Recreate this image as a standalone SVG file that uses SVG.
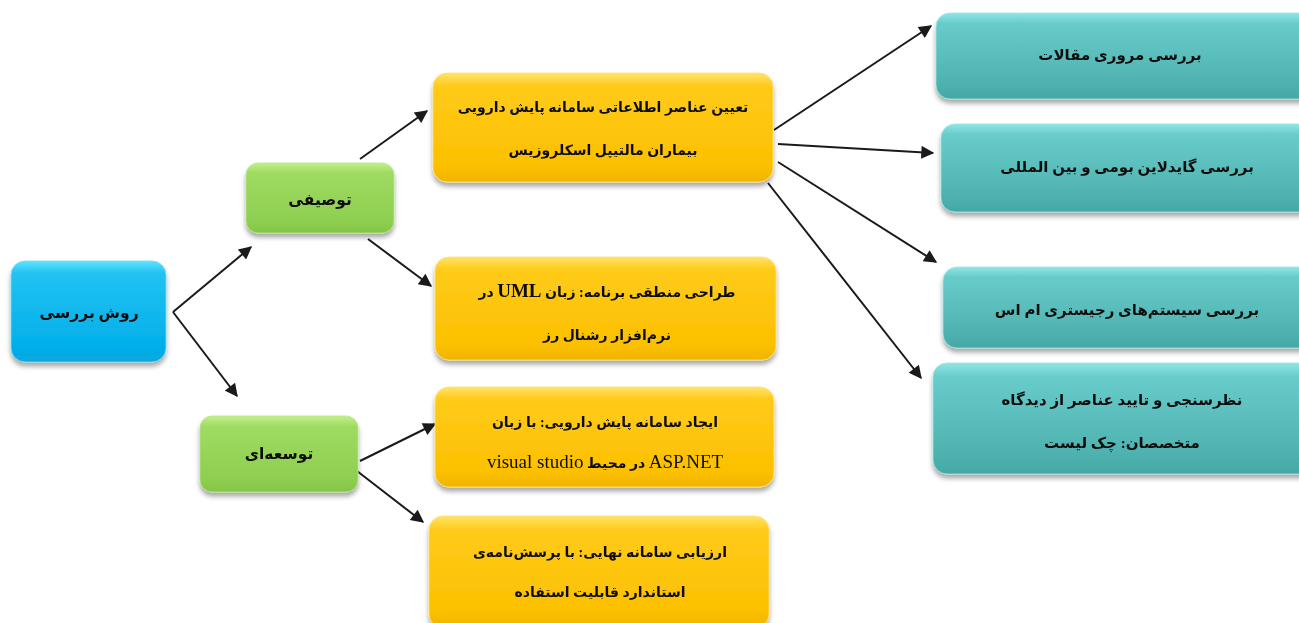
<svg xmlns="http://www.w3.org/2000/svg" width="1299" height="623" viewBox="0 0 1299 623">
<style>
.lbl{font-family:"Liberation Serif","DejaVu Sans",serif;font-weight:bold;font-size:14px;fill:#111111;text-anchor:middle;direction:rtl}
.lat{font-size:19px}
.t15{font-size:15px}
.t16{font-size:15.5px}
.edge{stroke:#1a1a1a;stroke-width:2;fill:none;marker-end:url(#ah)}
.box{filter:url(#sh)}
</style>
<defs>
<marker id="ah" viewBox="0 0 10 10" refX="9" refY="5" markerWidth="7.5" markerHeight="6.5" markerUnits="strokeWidth" orient="auto">
<path d="M0,0 L10,5 L0,10 z" fill="#1a1a1a"/>
</marker>
<filter id="sh" x="-10%" y="-10%" width="120%" height="130%">
<feGaussianBlur in="SourceAlpha" stdDeviation="2.5"/>
<feOffset dx="0" dy="4" result="b"/>
<feComponentTransfer><feFuncA type="linear" slope="0.35"/></feComponentTransfer>
<feMerge><feMergeNode/><feMergeNode in="SourceGraphic"/></feMerge>
</filter>
<linearGradient id="gBlue" x1="0" y1="0" x2="0" y2="1">
<stop offset="0" stop-color="#5fe2ff"/><stop offset="0.12" stop-color="#22c2f2"/><stop offset="0.85" stop-color="#02afe9"/><stop offset="1" stop-color="#0aa6dc"/>
</linearGradient>
<linearGradient id="gGreen" x1="0" y1="0" x2="0" y2="1">
<stop offset="0" stop-color="#c3ef8a"/><stop offset="0.14" stop-color="#9fdb62"/><stop offset="0.85" stop-color="#8dce50"/><stop offset="1" stop-color="#84c548"/>
</linearGradient>
<linearGradient id="gYellow" x1="0" y1="0" x2="0" y2="1">
<stop offset="0" stop-color="#ffe36a"/><stop offset="0.12" stop-color="#ffcb1a"/><stop offset="0.85" stop-color="#fcc000"/><stop offset="1" stop-color="#f0b400"/>
</linearGradient>
<linearGradient id="gTeal" x1="0" y1="0" x2="0" y2="1">
<stop offset="0" stop-color="#8fe6e4"/><stop offset="0.12" stop-color="#68cccb"/><stop offset="0.85" stop-color="#4db1ae"/><stop offset="1" stop-color="#45a7a4"/>
</linearGradient>
</defs>
<rect width="1299" height="623" fill="#ffffff"/>

<g id="connectors">
<path class="edge" d="M173,312 L251,247"/>
<path class="edge" d="M173,312 L237,396"/>
<path class="edge" d="M360,159 L427,111"/>
<path class="edge" d="M368,239 L431,286"/>
<path class="edge" d="M360,461 L435,424"/>
<path class="edge" d="M357,471 L423,522"/>
<path class="edge" d="M774,130 L931,26"/>
<path class="edge" d="M778,144 L933,153"/>
<path class="edge" d="M778,162 L936,262"/>
<path class="edge" d="M768,183 L921,378"/>
</g>

<g id="n-root" class="box">
<rect x="11" y="261" width="155" height="101" rx="14" fill="url(#gBlue)" stroke="#7fdcf7" stroke-width="0.8"/>
<text class="lbl t16" x="89" y="318">روش بررسی</text>
</g>

<g id="n-tosifi" class="box">
<rect x="246" y="163" width="148" height="70" rx="12" fill="url(#gGreen)" stroke="#b8e68a" stroke-width="0.8"/>
<text class="lbl t16" x="320" y="205">توصیفی</text>
</g>

<g id="n-tosee" class="box">
<rect x="200" y="416" width="158" height="76" rx="12" fill="url(#gGreen)" stroke="#b8e68a" stroke-width="0.8"/>
<text class="lbl t16" x="279" y="459">توسعه‌ای</text>
</g>

<g id="n-y1" class="box">
<rect x="433" y="73" width="340" height="109" rx="14" fill="url(#gYellow)" stroke="#ffe27a" stroke-width="0.8"/>
<text class="lbl" x="603" y="112">تعیین عناصر اطلاعاتی سامانه پایش دارویی</text>
<text class="lbl" x="603" y="155">بیماران مالتیپل اسکلروزیس</text>
</g>

<g id="n-y2" class="box">
<rect x="435" y="257" width="341" height="103" rx="14" fill="url(#gYellow)" stroke="#ffe27a" stroke-width="0.8"/>
<text class="lbl" x="607" y="297">طراحی منطقی برنامه: زبان <tspan class="lat">UML</tspan> در</text>
<text class="lbl" x="607" y="340">نرم‌افزار رشنال رز</text>
</g>

<g id="n-y3" class="box">
<rect x="435" y="387" width="339" height="100" rx="14" fill="url(#gYellow)" stroke="#ffe27a" stroke-width="0.8"/>
<text class="lbl" x="605" y="427">ایجاد سامانه پایش دارویی: با زبان</text>
<text class="lbl" x="605" y="468"><tspan class="lat" font-weight="normal">ASP.NET</tspan> در محیط <tspan class="lat" font-weight="normal">visual studio</tspan></text>
</g>

<g id="n-y4" class="box">
<rect x="429" y="516" width="340" height="112" rx="14" fill="url(#gYellow)" stroke="#ffe27a" stroke-width="0.8"/>
<text class="lbl" x="600" y="557">ارزیابی سامانه نهایی: با پرسش‌نامه‌ی</text>
<text class="lbl" x="600" y="597">استاندارد قابلیت استفاده</text>
</g>

<g id="n-t1" class="box">
<rect x="936" y="13" width="380" height="86" rx="14" fill="url(#gTeal)" stroke="#9be7e5" stroke-width="0.8"/>
<text class="lbl t15" x="1120" y="60">بررسی مروری مقالات</text>
</g>

<g id="n-t2" class="box">
<rect x="941" y="124" width="375" height="88" rx="14" fill="url(#gTeal)" stroke="#9be7e5" stroke-width="0.8"/>
<text class="lbl t15" x="1127" y="172">بررسی گایدلاین بومی و بین المللی</text>
</g>

<g id="n-t3" class="box">
<rect x="943" y="267" width="373" height="81" rx="14" fill="url(#gTeal)" stroke="#9be7e5" stroke-width="0.8"/>
<text class="lbl t15" x="1127" y="315">بررسی سیستم‌های رجیستری ام اس</text>
</g>

<g id="n-t4" class="box">
<rect x="933" y="363" width="383" height="111" rx="14" fill="url(#gTeal)" stroke="#9be7e5" stroke-width="0.8"/>
<text class="lbl t15" x="1122" y="405">نظرسنجی و تایید عناصر از دیدگاه</text>
<text class="lbl t15" x="1122" y="448">متخصصان: چک لیست</text>
</g>
</svg>
